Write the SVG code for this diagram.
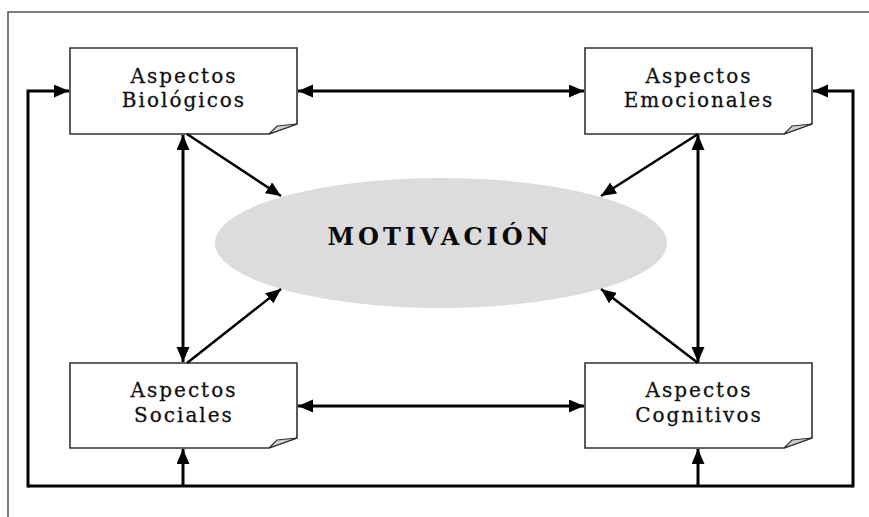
<svg xmlns="http://www.w3.org/2000/svg" width="869" height="517" viewBox="0 0 869 517">
<style>
.frame{fill:none;stroke:#555;stroke-width:1.5}
.box{fill:#fff;stroke:#333;stroke-width:1.6}
.fold{fill:#d0d0d0;stroke:#333;stroke-width:1.2}
.lbl{font-family:"DejaVu Serif","Liberation Serif",serif;font-size:20px;letter-spacing:2px;fill:#111;stroke:#111;stroke-width:0.3;text-anchor:middle}
.main{font-family:"DejaVu Serif","Liberation Serif",serif;font-size:24px;font-weight:bold;letter-spacing:4px;fill:#0a0a0a;text-anchor:middle}
.c{fill:none;stroke:#000;stroke-width:3}
.d{fill:none;stroke:#000;stroke-width:2.5}
</style>
<defs>
<marker id="ah" markerUnits="userSpaceOnUse" markerWidth="16" markerHeight="14" refX="15" refY="6.5" orient="auto-start-reverse" viewBox="0 0 16 14">
<path d="M0,0 L15,6.5 L0,13 z" fill="#000"/>
</marker>
</defs>
<rect width="869" height="517" fill="#fff"/>
<path class="frame" d="M8,517 V12 H869"/>
<g id="motivacion">
<ellipse cx="441" cy="243" rx="226" ry="65" fill="#dcdcdc"/>
<text class="main" x="440" y="245">MOTIVACIÓN</text>
</g>
<g id="biologicos">
<path class="box" d="M70,48 H297 V124 L269,134 H70 Z"/>
<path class="fold" d="M297,124 L269,134 L277,126 Z"/>
<text class="lbl" x="184" y="83">Aspectos</text>
<text class="lbl" x="184" y="107">Biológicos</text>
</g>
<g id="emocionales">
<path class="box" d="M585,48 H812 V124 L784,134 H585 Z"/>
<path class="fold" d="M812,124 L784,134 L792,126 Z"/>
<text class="lbl" x="699" y="83">Aspectos</text>
<text class="lbl" x="699" y="107">Emocionales</text>
</g>
<g id="sociales">
<path class="box" d="M70,363 H297 V438 L269,448 H70 Z"/>
<path class="fold" d="M297,438 L269,448 L277,440 Z"/>
<text class="lbl" x="184" y="397">Aspectos</text>
<text class="lbl" x="184" y="422">Sociales</text>
</g>
<g id="cognitivos">
<path class="box" d="M585,363 H812 V438 L784,448 H585 Z"/>
<path class="fold" d="M812,438 L784,448 L792,440 Z"/>
<text class="lbl" x="699" y="397">Aspectos</text>
<text class="lbl" x="699" y="422">Cognitivos</text>
</g>
<g id="connectors">
<line class="c" x1="298" y1="91" x2="584" y2="91" marker-start="url(#ah)" marker-end="url(#ah)"/>
<line class="c" x1="298" y1="406" x2="584" y2="406" marker-start="url(#ah)" marker-end="url(#ah)"/>
<line class="c" x1="183" y1="135" x2="183" y2="362" marker-start="url(#ah)" marker-end="url(#ah)"/>
<line class="c" x1="698" y1="135" x2="698" y2="362" marker-start="url(#ah)" marker-end="url(#ah)"/>
<line class="d" x1="187" y1="134" x2="281" y2="196" marker-end="url(#ah)"/>
<line class="d" x1="698" y1="134" x2="601" y2="196" marker-end="url(#ah)"/>
<line class="d" x1="187" y1="363" x2="281" y2="289" marker-end="url(#ah)"/>
<line class="d" x1="698" y1="363" x2="601" y2="289" marker-end="url(#ah)"/>
<path class="c" d="M28,486 H853"/>
<path class="c" d="M28,487.5 V91 H69" marker-end="url(#ah)"/>
<path class="c" d="M853,487.5 V91 H813" marker-end="url(#ah)"/>
<path class="c" d="M183,486 V449" marker-end="url(#ah)"/>
<path class="c" d="M698,486 V449" marker-end="url(#ah)"/>
</g>
</svg>
